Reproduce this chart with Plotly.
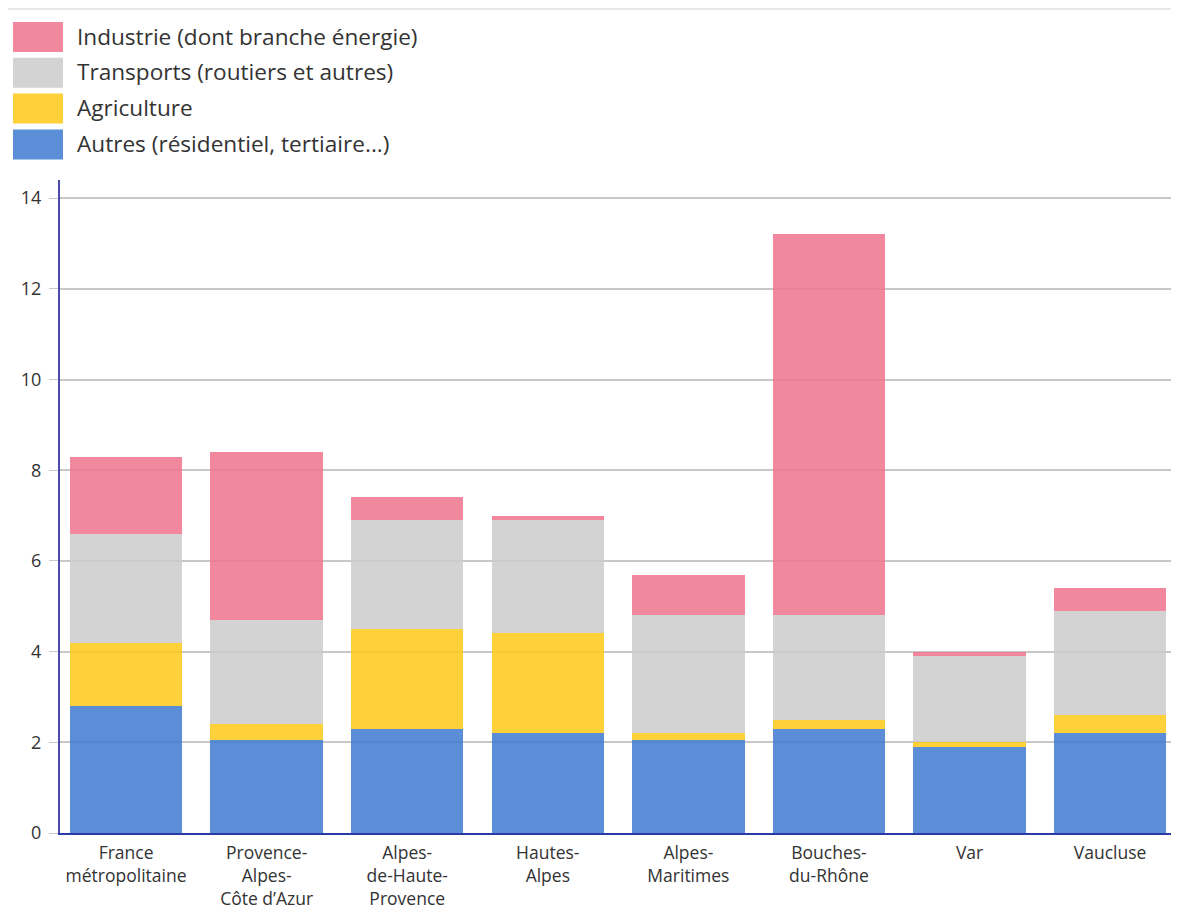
import plotly.graph_objects as go

categories = ["France<br>métropolitaine", "Provence-<br>Alpes-<br>Côte d’Azur", "Alpes-<br>de-Haute-<br>Provence",
              "Hautes-<br>Alpes", "Alpes-<br>Maritimes", "Bouches-<br>du-Rhône", "Var", "Vaucluse"]
series_names = ["Autres (résidentiel, tertiaire...)", "Agriculture", "Transports (routiers et autres)",
                "Industrie (dont branche énergie)"]
autres = [2.8, 2.05, 2.3, 2.2, 2.05, 2.3, 1.9, 2.2]
agriculture = [1.4, 0.35, 2.2, 2.2, 0.15, 0.2, 0.1, 0.4]
transports = [2.4, 2.3, 2.4, 2.5, 2.6, 2.3, 1.9, 2.3]
industrie = [1.7, 3.7, 0.5, 0.1, 0.9, 8.4, 0.1, 0.5]
y_ticks = [0, 2, 4, 6, 8, 10, 12, 14]

values = [autres, agriculture, transports, industrie]
colors = ["rgba(62,122,207,0.85)", "rgba(254,201,23,0.85)", "rgba(203,203,203,0.85)", "rgba(239,115,141,0.85)"]

# page has an 8px body margin; figure coordinates = page coordinates - 8
OFF = 8
W, H = 1179 - OFF, 909 - OFF
ML, MR, MT, MB = 60 - OFF, 0, 180 - OFF, 909 - 833

fig = go.Figure()
for name, vals, col in zip(series_names, values, colors):
    fig.add_trace(go.Bar(x=categories, y=vals, name=name, marker=dict(color=col, line=dict(width=0)),
                         showlegend=False))

def px_x(px):
    return (px - OFF - ML) / (W - ML - MR)

def px_y(py):
    return (H - MB - (py - OFF)) / (H - MT - MB)

# custom legend (top to bottom: Industrie, Transports, Agriculture, Autres)
legend_order = list(range(len(series_names)))[::-1]
shapes = []
annotations = []
for i, idx in enumerate(legend_order):
    top = 22 + i * 35.8
    shapes.append(dict(type="rect", xref="paper", yref="paper",
                       x0=px_x(13), x1=px_x(63), y0=px_y(top + 30), y1=px_y(top),
                       fillcolor=colors[idx], line=dict(width=0)))
    annotations.append(dict(xref="paper", yref="paper", x=px_x(75), y=px_y(top + 14),
                            text=series_names[idx], showarrow=False, xanchor="left", yanchor="middle",
                            font=dict(size=22.6, color="#333333", family="Open Sans")))
shapes.append(dict(type="line", xref="paper", yref="paper", x0=px_x(0), x1=px_x(1200), y0=px_y(9), y1=px_y(9),
                   line=dict(color="#e8e8e8", width=2)))

fig.update_layout(
    barmode="stack",
    bargap=0.2,
    width=W, height=H,
    margin=dict(l=ML, r=MR, t=MT, b=MB),
    plot_bgcolor="white", paper_bgcolor="white",
    font=dict(family="Open Sans", size=18, color="#333333"),
    shapes=shapes,
    annotations=annotations,
)
fig.update_yaxes(range=[0, 14.4], tickvals=y_ticks, showgrid=True, gridcolor="#c8c8c8", gridwidth=1.5,
                 showline=True, linecolor="#4a4aaa", linewidth=2, ticks="outside", ticklen=9,
                 tickcolor="#c8c8c8", tickfont=dict(size=18, color="#333333"), zeroline=False,
                 ticklabelstandoff=4, automargin=False)
fig.update_xaxes(range=[-0.47, 7.49], showline=True, linecolor="#2a3aa8", linewidth=2, ticks="",
                 tickfont=dict(size=17.5, color="#333333"), ticklabelstandoff=3, automargin=False)

fig.write_html("out.html")
